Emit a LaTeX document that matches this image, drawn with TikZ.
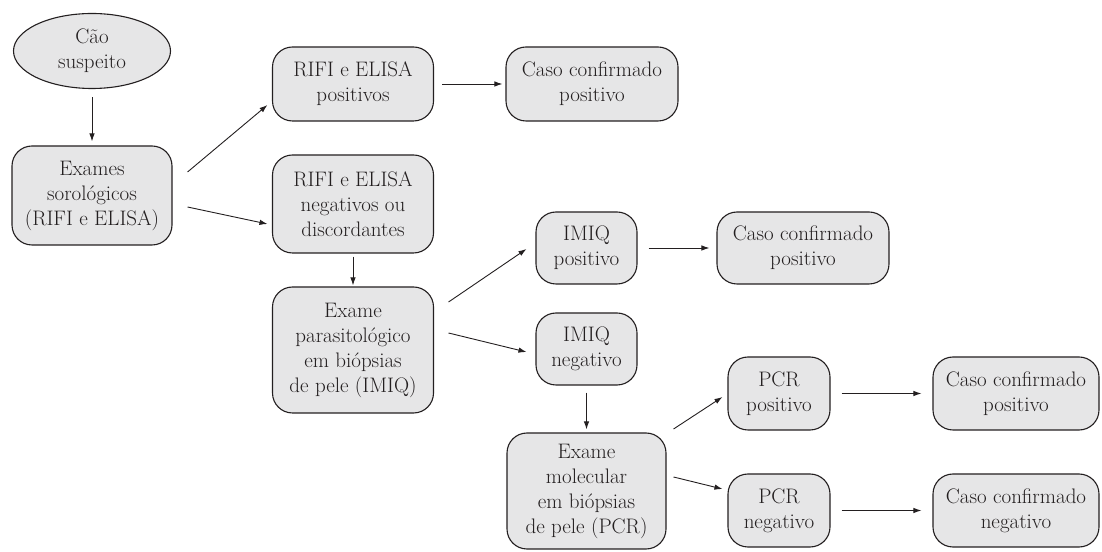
\documentclass[tikz,border=0pt]{standalone}
\usetikzlibrary{arrows.meta,shapes.geometric}
\definecolor{boxfill}{HTML}{E6E6E7}
\definecolor{ink}{HTML}{231F20}
\begin{document}
\begin{tikzpicture}[x=1pt,y=1pt,
  every node/.style={font=\fontsize{21}{25}\selectfont, text=ink},
  box/.style={draw=ink, fill=boxfill, line width=1.1pt, rounded corners=20pt, align=center, inner sep=2pt, minimum width=#1},
  box/.default=160pt,
  oval/.style={ellipse, draw=ink, fill=boxfill, line width=1.1pt, align=center, inner sep=0pt, minimum width=157pt, minimum height=75pt},
  arr/.style={draw=ink, line width=0.9pt, -{Latex[length=8pt,width=5.5pt]}}
]
\useasboundingbox (0,0) rectangle (1102,551);

\node[oval] (cao) at (92,500) {Cão\\suspeito};
\node[box=160pt, minimum height=99pt] (ex) at (92,355.5) {Exames\\sorológicos\\(RIFI e ELISA)};
\node[box=161pt, minimum height=74pt] (rp) at (353,467) {RIFI e ELISA\\positivos};
\node[box=161pt, minimum height=98pt] (rn) at (353,347) {RIFI e ELISA\\negativos ou\\discordantes};
\node[box=172pt, minimum height=74pt] (c1) at (592,467) {Caso confirmado\\positivo};
\node[box=161pt, minimum height=126pt] (par) at (353,201) {Exame\\parasitológico\\em biópsias\\de pele (IMIQ)};
\node[box=101pt, minimum height=72pt] (ip) at (586.5,303) {IMIQ\\positivo};
\node[box=101pt, minimum height=72pt] (in) at (586.5,202) {IMIQ\\negativo};
\node[box=172pt, minimum height=72pt] (c2) at (803,303) {Caso confirmado\\positivo};
\node[box=159pt, minimum height=116pt] (mol) at (586.5,60) {Exame\\molecular\\em biópsias\\de pele (PCR)};
\node[box=102pt, minimum height=73pt] (pp) at (779,157.5) {PCR\\positivo};
\node[box=102pt, minimum height=73pt] (pn) at (779,40.5) {PCR\\negativo};
\node[box=166pt, minimum height=73pt] (c3) at (1016,157.5) {Caso confirmado\\positivo};
\node[box=166pt, minimum height=73pt] (c4) at (1016,40.5) {Caso confirmado\\negativo};

\draw[arr, shorten <=8pt, shorten >=4pt] (cao.south) -- (ex.north);
\draw[arr] ([shift={(15,23.5)}]ex.east) -- ([shift={(-4.5,-21)}]rp.west);
\draw[arr] ([shift={(15,-11.5)}]ex.east) -- ([shift={(-4.5,-20)}]rn.west);
\draw[arr, shorten <=8pt, shorten >=3pt] (rp.east) -- (c1.west);
\draw[arr, shorten <=3pt, shorten >=1pt] (rn.south) -- (par.north);
\draw[arr] ([shift={(14.5,48)}]par.east) -- ([shift={(-9,-1)}]ip.west);
\draw[arr] ([shift={(14.5,17)}]par.east) -- ([shift={(-9,-3)}]in.west);
\draw[arr, shorten <=11pt, shorten >=7pt] (ip.east) -- (c2.west);
\draw[arr, shorten <=7pt, shorten >=3pt] (in.south) -- (mol.north);
\draw[arr] ([shift={(7,62)}]mol.east) -- ([shift={(-5,-3.5)}]pp.west);
\draw[arr] ([shift={(7,14)}]mol.east) -- ([shift={(-5,21.5)}]pn.west);
\draw[arr, shorten <=11pt, shorten >=11pt] (pp.east) -- (c3.west);
\draw[arr, shorten <=11pt, shorten >=11pt] (pn.east) -- (c4.west);
\end{tikzpicture}
\end{document}
